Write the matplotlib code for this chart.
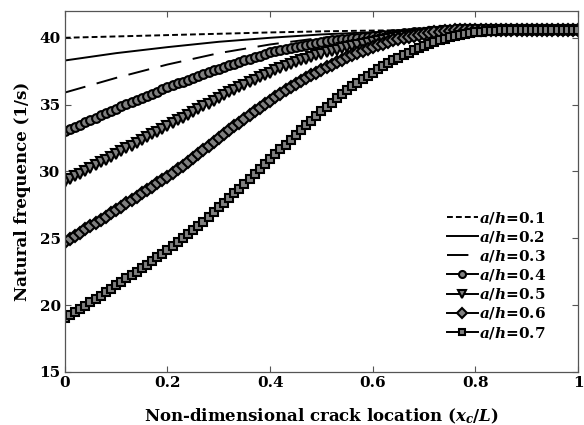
import matplotlib.pyplot as plt
import numpy as np

plt.rcParams['font.family'] = 'DejaVu Serif'
plt.rcParams['font.weight'] = 'bold'
plt.rcParams['mathtext.fontset'] = 'custom'
plt.rcParams['mathtext.it'] = 'DejaVu Serif:italic:bold'
plt.rcParams['mathtext.rm'] = 'DejaVu Serif:bold'

# coarse grid for the plain line curves
x_line = [0.0, 0.1, 0.2, 0.3, 0.4, 0.5, 0.6, 0.7, 0.8, 0.9, 1.0]
f01 = [40.0, 40.1, 40.2, 40.3, 40.4, 40.48, 40.54, 40.58, 40.6, 40.6, 40.6]
f02 = [38.3, 38.85, 39.3, 39.7, 40.0, 40.25, 40.42, 40.54, 40.6, 40.6, 40.6]
f03 = [35.9, 37.0, 38.0, 38.85, 39.5, 40.0, 40.3, 40.5, 40.6, 40.6, 40.6]

# fine grid (step 0.01) for the marker curves
x_mark = np.linspace(0, 1, 101)
f04 = [33.00, 33.17, 33.34, 33.51, 33.68, 33.85, 34.02, 34.19, 34.36, 34.53,
       34.70, 34.86, 35.02, 35.18, 35.34, 35.50, 35.66, 35.82, 35.98, 36.14,
       36.30, 36.44, 36.58, 36.72, 36.86, 37.00, 37.14, 37.28, 37.42, 37.56,
       37.70, 37.82, 37.94, 38.06, 38.18, 38.30, 38.42, 38.54, 38.66, 38.78,
       38.90, 38.99, 39.08, 39.17, 39.25, 39.33, 39.41, 39.49, 39.56, 39.63,
       39.70, 39.75, 39.80, 39.85, 39.89, 39.93, 39.97, 40.01, 40.04, 40.07,
       40.10, 40.14, 40.18, 40.22, 40.26, 40.30, 40.34, 40.37, 40.40, 40.43,
       40.45, 40.47, 40.49, 40.51, 40.53, 40.55, 40.56, 40.57, 40.58, 40.59,
       40.60, 40.60, 40.60, 40.60, 40.60, 40.60, 40.60, 40.60, 40.60, 40.60,
       40.60, 40.60, 40.60, 40.60, 40.60, 40.60, 40.60, 40.60, 40.60, 40.60,
       40.60]
f05 = [29.20, 29.41, 29.62, 29.83, 30.04, 30.25, 30.46, 30.67, 30.88, 31.09,
       31.30, 31.51, 31.72, 31.93, 32.14, 32.35, 32.56, 32.77, 32.98, 33.19,
       33.40, 33.61, 33.82, 34.03, 34.24, 34.45, 34.66, 34.87, 35.08, 35.29,
       35.50, 35.71, 35.91, 36.11, 36.30, 36.49, 36.68, 36.86, 37.04, 37.22,
       37.40, 37.57, 37.73, 37.88, 38.03, 38.17, 38.31, 38.44, 38.56, 38.68,
       38.80, 38.91, 39.01, 39.11, 39.20, 39.29, 39.38, 39.46, 39.54, 39.62,
       39.70, 39.78, 39.85, 39.92, 39.99, 40.05, 40.11, 40.17, 40.22, 40.26,
       40.30, 40.35, 40.40, 40.44, 40.48, 40.51, 40.54, 40.56, 40.58, 40.59,
       40.60, 40.60, 40.60, 40.60, 40.60, 40.60, 40.60, 40.60, 40.60, 40.60,
       40.60, 40.60, 40.60, 40.60, 40.60, 40.60, 40.60, 40.60, 40.60, 40.60,
       40.60]
f06 = [24.70, 24.94, 25.18, 25.42, 25.66, 25.90, 26.14, 26.38, 26.62, 26.86,
       27.10, 27.35, 27.60, 27.85, 28.10, 28.35, 28.60, 28.85, 29.10, 29.35,
       29.60, 29.87, 30.15, 30.43, 30.72, 31.01, 31.30, 31.60, 31.90, 32.20,
       32.50, 32.79, 33.08, 33.37, 33.65, 33.93, 34.21, 34.49, 34.76, 35.03,
       35.30, 35.56, 35.81, 36.06, 36.30, 36.53, 36.76, 36.98, 37.19, 37.40,
       37.60, 37.80, 37.99, 38.18, 38.36, 38.53, 38.70, 38.86, 39.01, 39.16,
       39.30, 39.44, 39.57, 39.69, 39.80, 39.90, 40.00, 40.09, 40.17, 40.24,
       40.30, 40.36, 40.41, 40.46, 40.50, 40.53, 40.56, 40.58, 40.59, 40.60,
       40.60, 40.60, 40.60, 40.60, 40.60, 40.60, 40.60, 40.60, 40.60, 40.60,
       40.60, 40.60, 40.60, 40.60, 40.60, 40.60, 40.60, 40.60, 40.60, 40.60,
       40.60]
f07 = [19.00, 19.24, 19.48, 19.72, 19.96, 20.21, 20.46, 20.71, 20.96, 21.23,
       21.50, 21.75, 22.00, 22.25, 22.51, 22.77, 23.03, 23.29, 23.56, 23.83,
       24.10, 24.39, 24.69, 24.99, 25.30, 25.61, 25.93, 26.25, 26.58, 26.94,
       27.30, 27.65, 28.00, 28.36, 28.72, 29.08, 29.44, 29.81, 30.17, 30.54,
       30.90, 31.27, 31.64, 32.01, 32.38, 32.74, 33.10, 33.46, 33.81, 34.16,
       34.50, 34.83, 35.15, 35.46, 35.77, 36.07, 36.36, 36.64, 36.91, 37.16,
       37.40, 37.64, 37.87, 38.09, 38.30, 38.50, 38.70, 38.89, 39.07, 39.24,
       39.40, 39.55, 39.69, 39.82, 39.94, 40.05, 40.14, 40.22, 40.29, 40.35,
       40.40, 40.44, 40.48, 40.51, 40.54, 40.56, 40.58, 40.59, 40.60, 40.60,
       40.60, 40.60, 40.60, 40.60, 40.60, 40.60, 40.60, 40.60, 40.60, 40.60,
       40.60]

labels = ['$a/h$=0.1', '$a/h$=0.2', '$a/h$=0.3', '$a/h$=0.4',
          '$a/h$=0.5', '$a/h$=0.6', '$a/h$=0.7']

fig = plt.figure(figsize=(5.84, 4.25), dpi=100)
ax = fig.add_axes([0.111, 0.125, 0.879, 0.849])

ax.plot(x_line, f01, color='black', lw=1.4, dashes=(3, 1.6), label=labels[0])
ax.plot(x_line, f02, color='black', lw=1.4, label=labels[1])
ax.plot(x_line, f03, color='black', lw=1.4, dashes=(11, 6), label=labels[2])

mk = dict(color='black', lw=1.4, markerfacecolor='#808080',
          markeredgecolor='black', markeredgewidth=1.5)
ax.plot(x_mark, f04, marker='o', markersize=6.3, label=labels[3], **mk)
ax.plot(x_mark, f05, marker='v', markersize=6.8, label=labels[4], **mk)
ax.plot(x_mark, f06, marker='D', markersize=6, label=labels[5], **mk)
ax.plot(x_mark, f07, marker='s', markersize=5.8, label=labels[6], **mk)

ax.set_xlim(0, 1)
ax.set_ylim(15, 42)
ax.set_xticks([0, 0.2, 0.4, 0.6, 0.8, 1])
ax.set_xticklabels(['0', '0.2', '0.4', '0.6', '0.8', '1'])
ax.set_yticks([15, 20, 25, 30, 35, 40])
ax.tick_params(direction='in', top=True, right=True, length=4,
               width=0.8, color='#555555', labelsize=11, pad=3)
for s in ax.spines.values():
    s.set_color('#555555')
    s.set_linewidth(0.9)

ax.set_xlabel('Non-dimensional crack location ($x_c/L$)', fontsize=12,
              fontweight='bold', labelpad=12)
ax.set_ylabel('Natural frequence (1/s)', fontsize=12, fontweight='bold',
              labelpad=6)

ax.legend(loc='lower right', bbox_to_anchor=(0.95, 0.07), frameon=False,
          fontsize=11, handlelength=2.0, handletextpad=0.1,
          labelspacing=0.2, numpoints=1, borderaxespad=0,
          markerscale=0.8)

fig.savefig('out.png', dpi=100)
